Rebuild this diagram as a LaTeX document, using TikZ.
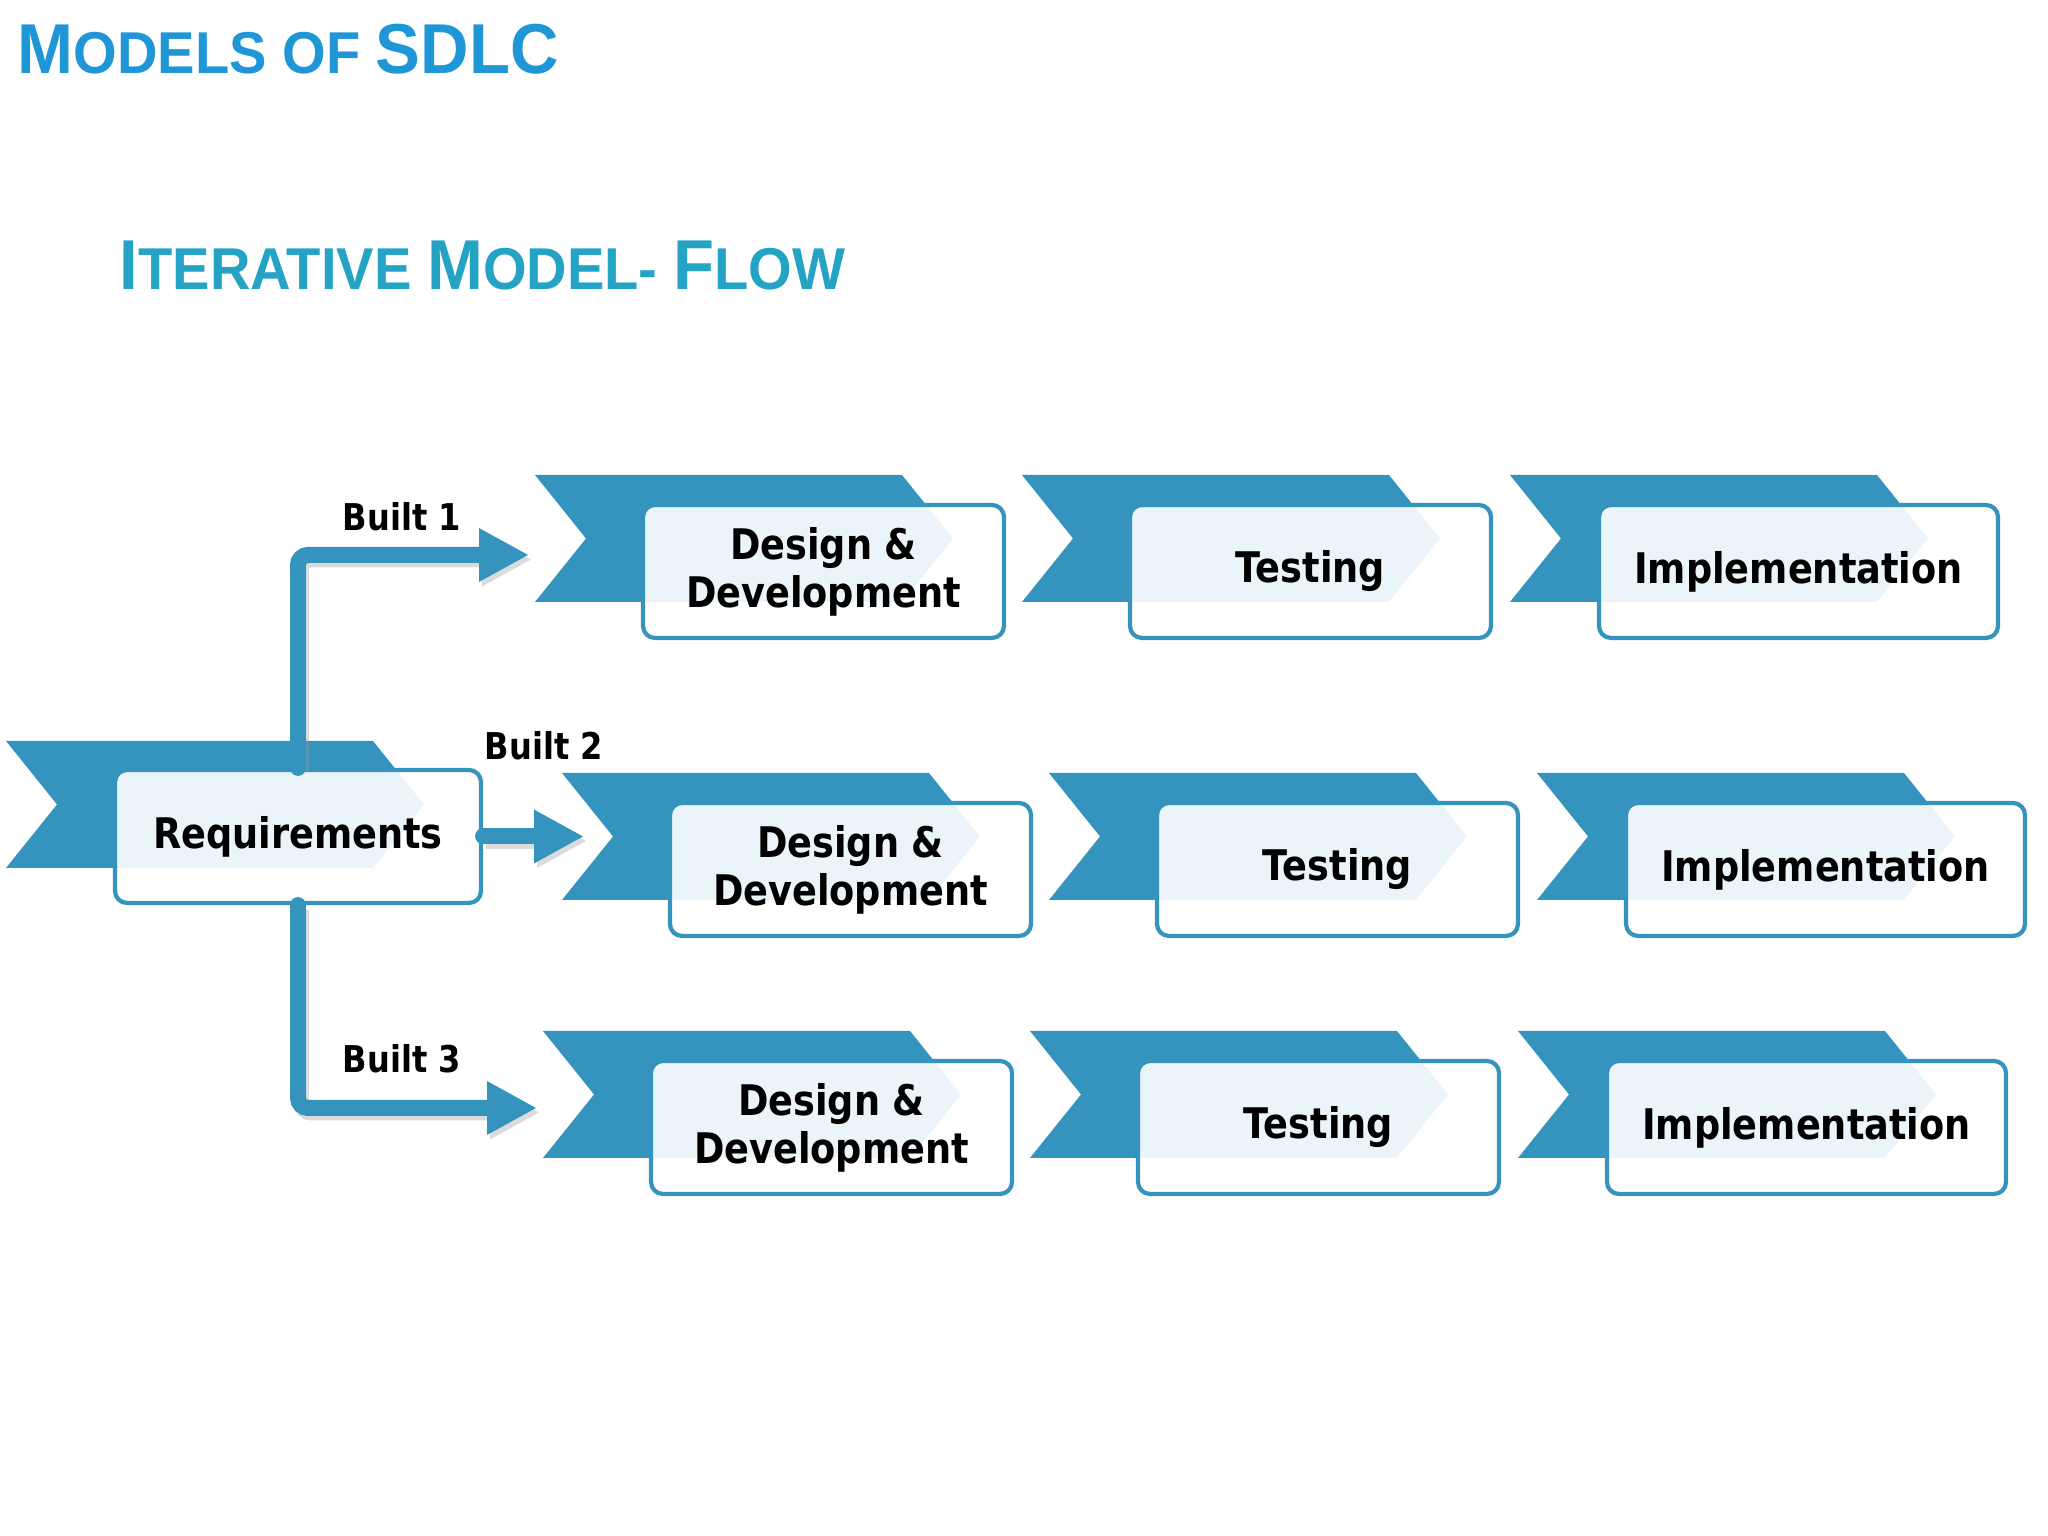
\documentclass[tikz,border=0pt]{standalone}
\usepackage{fontspec}
\setmainfont{DejaVu Sans}
\newfontfamily\boxfont{DejaVu Sans}[FakeStretch=0.87]
\newfontfamily\titlefont{Liberation Sans}[FakeStretch=0.95]
\usetikzlibrary{arrows.meta,positioning}
\definecolor{Chev}{HTML}{3594BE}
\definecolor{TitleBlue}{HTML}{1F97D6}
\definecolor{TitleTeal}{HTML}{25A3C5}
\newcommand{\tcap}[1]{{\fontsize{20.1pt}{21pt}\selectfont #1}}
% chevron band, #1,#2 = top left corner
\newcommand{\chevron}[2]{%
  \fill[chev] (#1,#2) -- ++(3.67,0) -- ++(0.51,-0.635) -- ++(-0.51,-0.635)
    -- ++(-3.67,0) -- ++(0.51,0.635) -- cycle;}
\tikzset{
  chev/.style={fill=Chev},
  stagebox/.style={draw=Chev, line width=1.2pt, rounded corners=0.12cm, fill=white,
    fill opacity=0.9, text opacity=1, minimum height=1.33cm, minimum width=3.61cm,
    align=center, inner sep=0pt, font=\boxfont\bfseries\fontsize{12pt}{13.6pt}\selectfont},
  implbox/.style={stagebox, minimum width=3.99cm},
  flow/.style={Chev, line width=4.55pt, rounded corners=0.1cm, line cap=round,
    -{Triangle[length=0.5cm,width=0.5cm]}},
  flowshade/.style={black!40, opacity=0.35, line width=4.55pt, rounded corners=0.1cm,
    -{Triangle[length=0.5cm,width=0.5cm]}, transform canvas={shift={(0.03,-0.045)}}},
  builtlabel/.style={font=\boxfont\bfseries\fontsize{10.5pt}{12pt}\selectfont},
  titletext/.style={anchor=base west, inner sep=0pt, font=\titlefont\bfseries\fontsize{16.8pt}{18pt}\selectfont},
}

\begin{document}
\begin{tikzpicture}
  \fill[white] (0,0) rectangle (20.48,15.36);
  \useasboundingbox (0,0) rectangle (20.48,15.36);

  % titles
  \node[titletext, text=TitleBlue] (models) at (0.17,14.62) {\tcap{M}ODELS OF \tcap{SDLC}};
  \node[titletext, text=TitleTeal] (iter) at (1.19,12.46) {\tcap{I}TERATIVE \tcap{M}ODEL- \tcap{F}LOW};

  % requirements
  \chevron{0.06}{7.95}
  \node[stagebox, minimum width=3.66cm] (req) at (2.98,6.995) {Requirements};

  % the three builds
  \foreach \r/\x/\y in {1/5.35/10.61, 2/5.62/7.63, 3/5.43/5.05} {
    \chevron{\x}{\y}
    \node[stagebox] (dev\r) at (\x+2.885,\y-0.965) {Design \&\\Development};
    \chevron{\x+4.87}{\y}
    \node[stagebox] (test\r) at (\x+7.755,\y-0.965) {Testing};
    \chevron{\x+9.75}{\y}
    \node[implbox] (impl\r) at (\x+12.635,\y-0.965) {Implementation};
  }

  \coordinate (tip1) at (5.29,9.81);
  \coordinate (tip2) at (5.84,6.995);
  \coordinate (tip3) at (5.37,4.28);
  \draw[flowshade] (req.north) |- (tip1);
  \draw[flowshade] (req.east) -- (tip2);
  \draw[flowshade] (req.south) |- (tip3);
  \draw[flow] (req.north) |- (tip1);
  \draw[flow] (req.east) -- (tip2);
  \draw[flow] (req.south) |- (tip3);

  \node[builtlabel] (b1) at (4.02,10.19) {Built 1};
  \node[builtlabel] (b2) at (5.44,7.90) {Built 2};
  \node[builtlabel] (b3) at (4.02,4.77) {Built 3};
\end{tikzpicture}
\end{document}
